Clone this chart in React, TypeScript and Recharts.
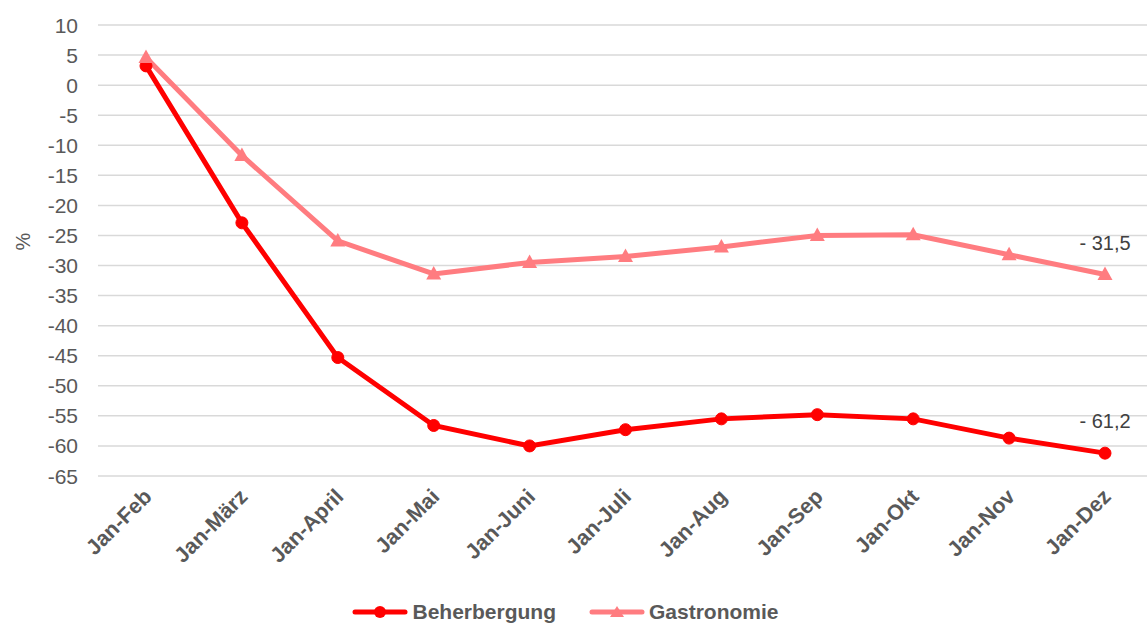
import React from 'react'
import { LineChart, Line, XAxis, YAxis, CartesianGrid, Legend, LabelList } from 'recharts'

const periods = ['Jan-Feb', 'Jan-März', 'Jan-April', 'Jan-Mai', 'Jan-Juni', 'Jan-Juli', 'Jan-Aug', 'Jan-Sep', 'Jan-Okt', 'Jan-Nov', 'Jan-Dez']
const beherbergung = [3.2, -22.9, -45.3, -56.6, -60.0, -57.3, -55.5, -54.8, -55.5, -58.7, -61.2]
const gastronomie = [4.6, -11.7, -25.9, -31.4, -29.5, -28.5, -26.9, -25.0, -24.9, -28.2, -31.5]
const yTicks = [10, 5, 0, -5, -10, -15, -20, -25, -30, -35, -40, -45, -50, -55, -60, -65]

const RED = '#FF0000'
const PINK = '#FF7C80'
const GREY = '#595959'
const FONT = '"Liberation Sans", Arial, sans-serif'

const data = periods.map((p, i) => ({ p, beh: beherbergung[i], gas: gastronomie[i] }))

const fmt = (v: number) => (v < 0 ? '- ' : '') + Math.abs(v).toFixed(1).replace('.', ',')

const YTick = ({ x, y, payload }: any) => (
  <text x={x - 12} y={y} dy={7.5} textAnchor="end" fontSize={21} fill={GREY} fontFamily={FONT}>
    {payload.value}
  </text>
)

const XTick = ({ x, y, payload }: any) => (
  <text
    x={x + 7}
    y={y + 14}
    textAnchor="end"
    fontSize={21.5}
    fontWeight="bold"
    fill={GREY}
    fontFamily={FONT}
    transform={`rotate(-45 ${x + 7} ${y + 14})`}
  >
    {payload.value}
  </text>
)

const Triangle = ({ cx, cy, fill }: any) => {
  if (cx == null || cy == null) return null
  return <path d={`M${cx},${cy - 8} L${cx + 7.5},${cy + 5.5} L${cx - 7.5},${cy + 5.5} Z`} fill={fill} />
}

// only the last point carries a value label
const endLabel = (last: number) => ({ x, y, value, index }: any) => {
  if (index !== last) return null
  return (
    <text x={x} y={y - 25} textAnchor="middle" fontSize={20} fill="#404040" fontFamily={FONT}>
      {fmt(value)}
    </text>
  )
}

const LegendContent = () => (
  <div style={{ display: 'flex', justifyContent: 'center', alignItems: 'center', height: 40, paddingTop: 10, paddingRight: 22, boxSizing: 'border-box', fontFamily: FONT, fontWeight: 'bold', fontSize: 21, color: GREY }}>
    <svg width={56} height={14} style={{ marginRight: 4 }}>
      <line x1={3} y1={7} x2={53} y2={7} stroke={RED} strokeWidth={5} strokeLinecap="round" />
      <circle cx={28} cy={7} r={6} fill={RED} />
    </svg>
    <span style={{ marginRight: 33 }}>Beherbergung</span>
    <svg width={56} height={14} style={{ marginRight: 4 }}>
      <line x1={3} y1={7} x2={53} y2={7} stroke={PINK} strokeWidth={5} strokeLinecap="round" />
      <path d="M28,1 L35,12 L21,12 Z" fill={PINK} />
    </svg>
    <span>Gastronomie</span>
  </div>
)

export default function App() {
  return (
    <div style={{ position: 'absolute', left: 0, top: 0, width: 1147, height: 627, overflow: 'hidden', background: '#fff' }}>
      <LineChart width={1153} height={627} data={data} margin={{ top: 25, right: 0, bottom: 0, left: 0 }}>
        <CartesianGrid vertical={false} stroke="#D9D9D9" strokeWidth={1.5} />
        <XAxis
          dataKey="p"
          axisLine={false}
          tickLine={false}
          tick={<XTick />}
          interval={0}
          height={111}
          padding={{ left: 48, right: 48 }}
        />
        <YAxis
          domain={[-65, 10]}
          ticks={yTicks}
          axisLine={false}
          tickLine={false}
          tick={<YTick />}
          width={98}
          label={{ value: '%', angle: -90, position: 'insideLeft', offset: 23, fontSize: 20, fill: GREY, fontFamily: FONT }}
        />
        <Legend verticalAlign="bottom" height={40} content={<LegendContent />} />
        <Line
          dataKey="beh"
          name="Beherbergung"
          stroke={RED}
          strokeWidth={5}
          dot={{ r: 6, fill: RED, stroke: RED, strokeWidth: 1 }}
          isAnimationActive={false}
        >
          <LabelList dataKey="beh" content={endLabel(periods.length - 1)} />
        </Line>
        <Line
          dataKey="gas"
          name="Gastronomie"
          stroke={PINK}
          strokeWidth={5}
          dot={<Triangle fill={PINK} />}
          isAnimationActive={false}
        >
          <LabelList dataKey="gas" content={endLabel(periods.length - 1)} />
        </Line>
      </LineChart>
    </div>
  )
}
